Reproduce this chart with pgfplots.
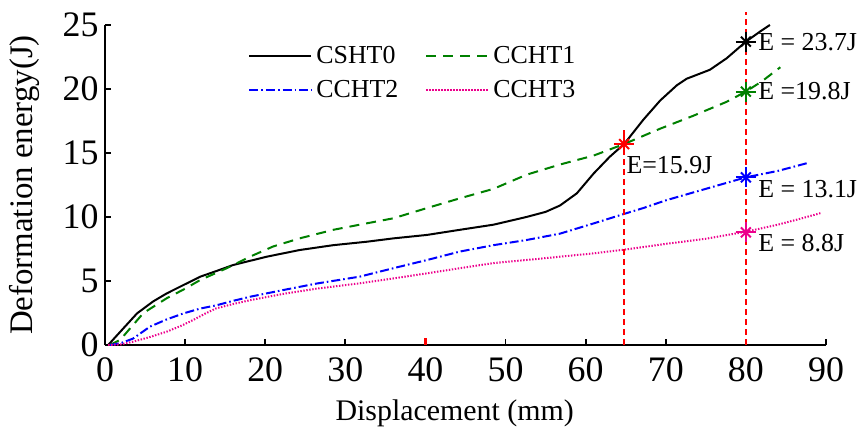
\documentclass[border=0pt]{standalone}
\usepackage{fontspec}
\setmainfont{Liberation Serif}
\usepackage{pgfplots}
\pgfplotsset{compat=1.18}
\definecolor{mgreen}{rgb}{0,0.5,0}
\begin{document}
\begin{tikzpicture}
\begin{axis}[
 scale only axis, width=360.5bp, height=160bp,
 xmin=0,xmax=90,ymin=0,ymax=25,
 axis lines=left, axis line style={-, line width=0.9bp},
 tick align=inside, major tick length=3bp, tick style={line width=0.9bp, black},
 xtick={0,10,...,90}, ytick={0,5,...,25},
 xticklabel={\rmfamily\pgfmathprintnumber[assume math mode=true]{\tick}},
 yticklabel={\rmfamily\pgfmathprintnumber[assume math mode=true]{\tick}},
 ticklabel style={font=\fontsize{18}{18}\selectfont, inner sep=2bp},
 xticklabel style={yshift=-4bp},
 yticklabel style={xshift=-1bp},
 xlabel={Displacement (mm)}, ylabel={Deformation energy(J)},
 xlabel style={font=\fontsize{15}{15}\selectfont, at={(axis description cs:0.485,-0.212)},anchor=center},
 ylabel style={font=\fontsize{16.5}{16.5}\selectfont, at={(axis description cs:-0.111,0.5)},anchor=center},
 clip=false,
 legend columns=2,
 legend style={draw=none, fill=none, at={(axis description cs:0.19,0.96)}, anchor=north west,
   font=\fontsize{13}{13}\selectfont, row sep=3bp,
   /tikz/every even column/.append style={column sep=11.5bp}},
 legend cell align=left,
 legend image code/.code={\draw[#1] (0bp,0bp) -- (31bp,0bp);},
 every axis plot/.append style={line join=round},
]
\addplot[black, line width=1bp] coordinates {
(0.4,0) (2,1.1) (4,2.47) (6,3.4) (7.7,4.03) (10,4.75) (11.9,5.34) (14,5.8) (16,6.25) (20.2,6.9) (24.3,7.42) (28.5,7.8) (32.7,8.07) (36,8.33) (40.2,8.6) (44.3,9.0) (48.5,9.4) (52.6,10.0) (55,10.4) (56.8,10.9) (58.9,11.85) (61,13.4) (63,14.7) (64.8,15.7) (67.2,17.6) (69.3,19.1) (71.4,20.3) (72.6,20.8) (75.5,21.5) (77.6,22.4) (80,23.7) (81.8,24.5) (83,25)};
\addlegendentry{CSHT0}
\addplot[mgreen, line width=1bp, dash pattern=on 5bp off 3.5bp] coordinates {
(0.6,0) (1.9,0.4) (3,1.2) (4.8,2.5) (7.7,3.65) (10,4.4) (11.9,5.08) (15.2,6.0) (18.1,6.9) (21,7.7) (24.3,8.33) (28.5,9.0) (31.8,9.4) (36,9.9) (40.2,10.7) (44.3,11.46) (48.5,12.2) (52.6,13.3) (56.8,14.1) (61,14.8) (64.8,15.7) (69.3,16.9) (73.4,17.9) (77.6,19.0) (80,19.8) (82,20.6) (84.3,21.7)};
\addlegendentry{CCHT1}
\addplot[blue, line width=1bp, dash pattern=on 4.5bp off 1.5bp on 0.8bp off 1.5bp] coordinates {
(0.6,0) (2,0.15) (3.5,0.5) (5.6,1.43) (7.7,2.0) (9.8,2.47) (11.9,2.85) (13.9,3.1) (16,3.45) (18.1,3.77) (22.3,4.3) (26.4,4.8) (31.8,5.34) (36,6.0) (40.2,6.64) (44.3,7.3) (48.5,7.8) (52.6,8.2) (56.8,8.7) (61,9.5) (65.1,10.3) (67.2,10.7) (70,11.3) (75,12.2) (80,13.1) (84,13.6) (87.6,14.2)};
\addlegendentry{CCHT2}
\addplot[magenta, line width=1bp, dash pattern=on 0.7bp off 0.8bp] coordinates {
(0.4,0) (2,0.05) (3.5,0.26) (5.5,0.6) (7.7,1.04) (9.5,1.5) (11,1.95) (12.5,2.45) (13.9,2.87) (16,3.2) (18.1,3.5) (22.3,4.0) (26.4,4.4) (31.8,4.82) (36,5.2) (40.2,5.6) (44.3,6.0) (48.5,6.4) (52.6,6.64) (56.8,6.9) (61,7.16) (65.1,7.47) (70,7.9) (75,8.3) (80,8.85) (84,9.4) (87,9.9) (89.3,10.3)};
\addlegendentry{CCHT3}
% vertical reference lines
\addplot[red, line width=0.65bp, dash pattern=on 3bp off 2bp, forget plot] coordinates {(64.8,0) (64.8,16.8)};
\addplot[red, line width=0.65bp, dash pattern=on 3bp off 2bp, forget plot] coordinates {(80,0) (80,26.0)};
\addplot[red, line width=1.2bp, forget plot] coordinates {(40,0) (40,0.55)};
% star markers
\addplot[only marks, mark=+, mark size=5bp, red, line width=1bp, forget plot] coordinates {(64.8,15.7)};
\addplot[only marks, mark=x, mark size=3.5bp, red, line width=1bp, forget plot] coordinates {(64.8,15.7)};
\addplot[only marks, mark=+, mark size=5bp, black, line width=1bp, forget plot] coordinates {(80,23.7)};
\addplot[only marks, mark=x, mark size=3.5bp, black, line width=1bp, forget plot] coordinates {(80,23.7)};
\addplot[only marks, mark=+, mark size=5bp, mgreen, line width=1bp, forget plot] coordinates {(80,19.8)};
\addplot[only marks, mark=x, mark size=3.5bp, mgreen, line width=1bp, forget plot] coordinates {(80,19.8)};
\addplot[only marks, mark=+, mark size=5bp, blue, line width=1bp, forget plot] coordinates {(80,13.1)};
\addplot[only marks, mark=x, mark size=3.5bp, blue, line width=1bp, forget plot] coordinates {(80,13.1)};
\addplot[only marks, mark=+, mark size=5bp, magenta, line width=1bp, forget plot] coordinates {(80,8.8)};
\addplot[only marks, mark=x, mark size=3.5bp, magenta, line width=1bp, forget plot] coordinates {(80,8.8)};
% annotations
\node[anchor=west, inner sep=0pt, xshift=6bp, font=\fontsize{13}{13}\selectfont] at (axis cs:80,23.7) {E = 23.7J};
\node[anchor=west, inner sep=0pt, xshift=6bp, font=\fontsize{13}{13}\selectfont] at (axis cs:80,19.8) {E =19.8J};
\node[anchor=west, inner sep=0pt, xshift=6bp, yshift=-6bp, font=\fontsize{13}{13}\selectfont] at (axis cs:80,13.1) {E = 13.1J};
\node[anchor=west, inner sep=0pt, xshift=6bp, yshift=-5.5bp, font=\fontsize{13}{13}\selectfont] at (axis cs:80,8.8) {E = 8.8J};
\node[anchor=north west, inner sep=0pt, xshift=1bp, yshift=-6bp, font=\fontsize{13}{13}\selectfont] at (axis cs:64.8,15.7) {E=15.9J};
\coordinate (ll) at (rel axis cs:0,0);
\coordinate (ur) at (rel axis cs:1,1);
\end{axis}
\pgfresetboundingbox
\path[use as bounding box] ([shift={(-52.5bp,-43.5bp)}]ll) rectangle ([shift={(17bp,12.5bp)}]ur);
\end{tikzpicture}
\end{document}
